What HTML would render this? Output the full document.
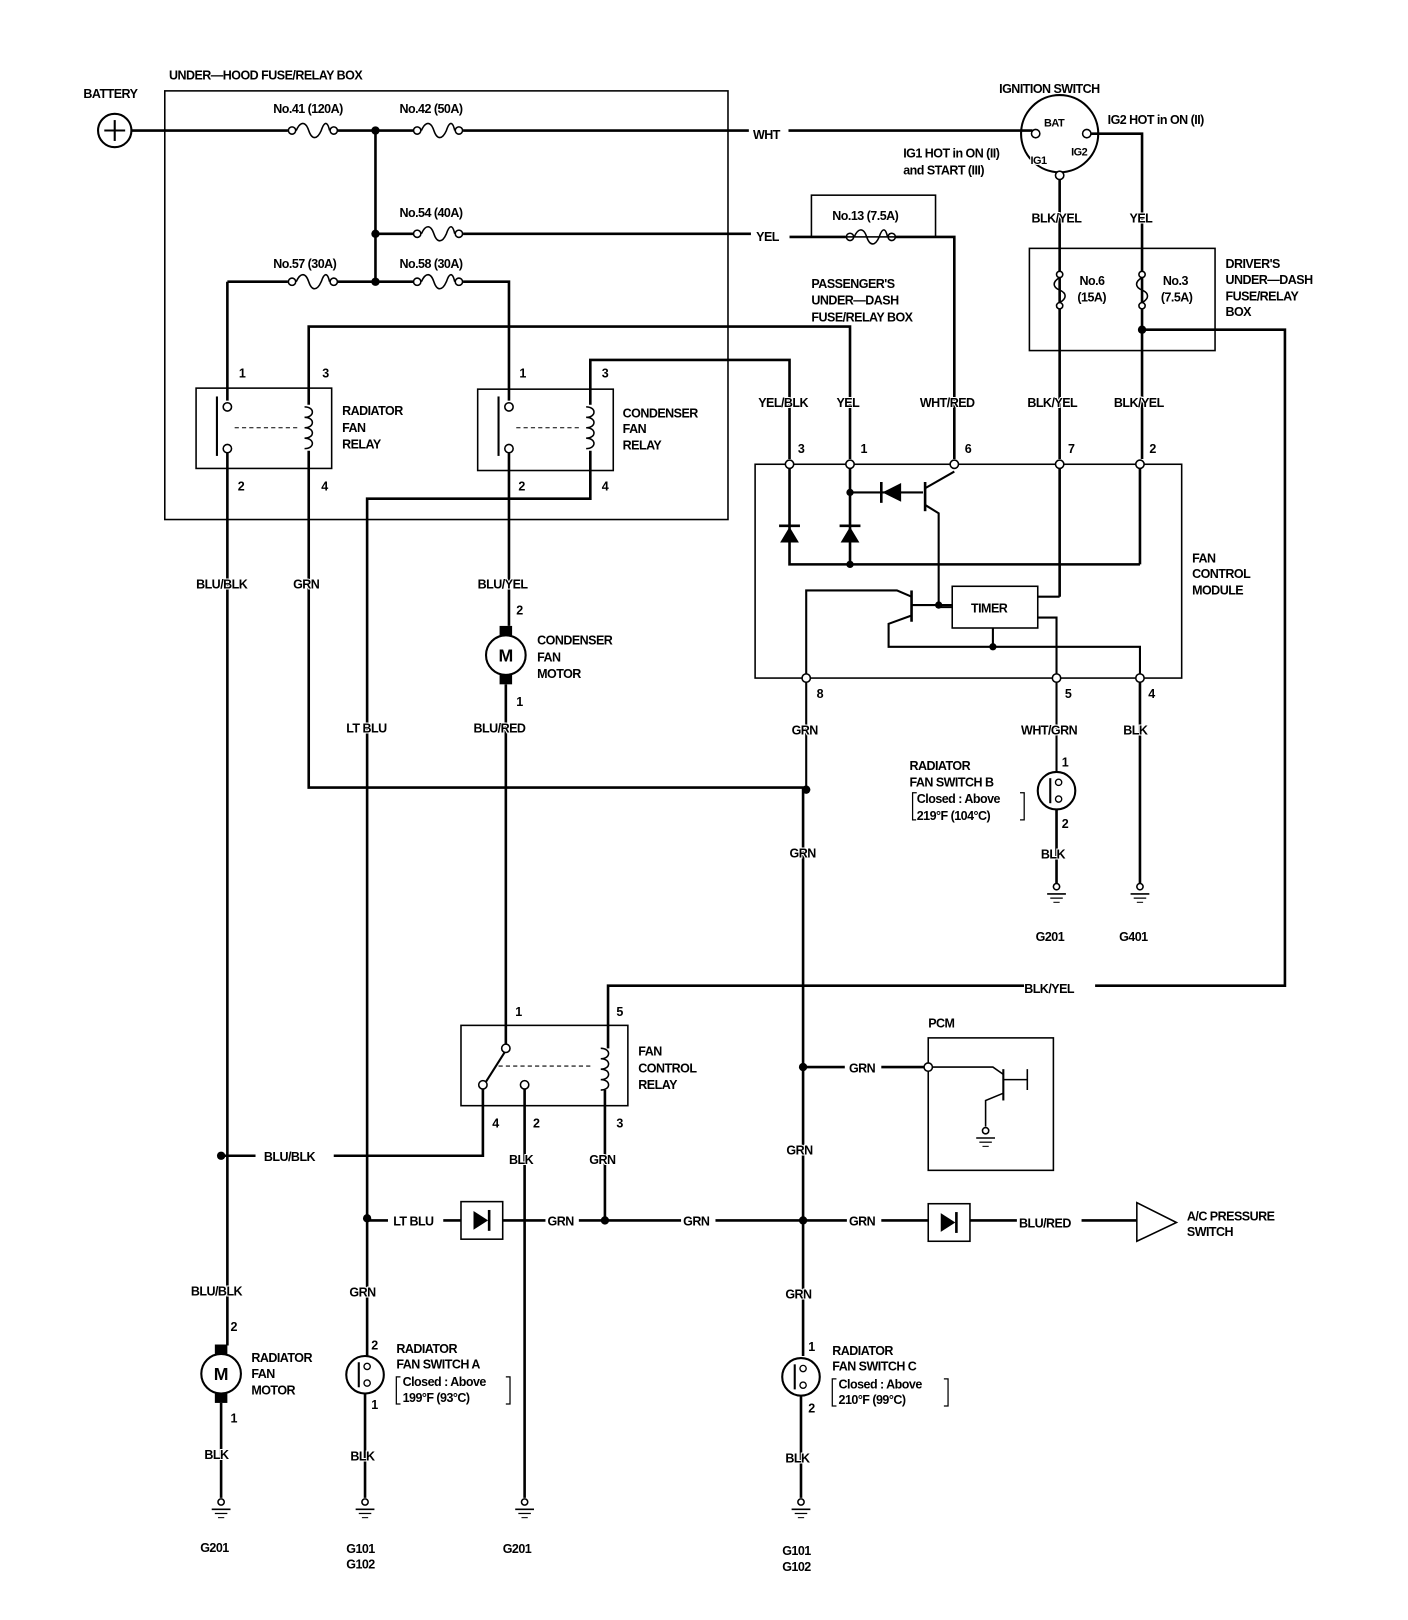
<!DOCTYPE html>
<html><head><meta charset="utf-8"><style>
html,body{margin:0;padding:0;background:#fff}
svg{display:block}
text{font-family:"Liberation Sans",sans-serif;font-weight:bold;font-size:12px;fill:#000;letter-spacing:-0.5px;paint-order:stroke;stroke:#fff;stroke-width:2px}
.s{font-size:10.5px}
</style></head><body>
<svg width="1408" height="1620" viewBox="0 0 1350 1553" xmlns="http://www.w3.org/2000/svg">
<defs>
<g id="gnd"><circle cx="0" cy="0" r="3" fill="#fff" stroke="#000" stroke-width="1.5"/><line x1="-9" y1="7" x2="9" y2="7" stroke="#000" stroke-width="1.5"/><line x1="-6" y1="11" x2="6" y2="11" stroke="#000" stroke-width="1.2"/><line x1="-3" y1="15" x2="3" y2="15" stroke="#000" stroke-width="1"/></g>
<g id="fuseh"><circle cx="0" cy="0" r="3.5" fill="#fff" stroke="#000" stroke-width="1.5"/><circle cx="40" cy="0" r="3.5" fill="#fff" stroke="#000" stroke-width="1.5"/><path d="M4,0 C8,-9 13,-9 16,0 C19,9 24,9 28,0 C31,-9 34,-9 36,0" fill="none" stroke="#000" stroke-width="1.5"/></g>
<g id="fusev"><circle cx="0" cy="0" r="3" fill="#fff" stroke="#000" stroke-width="1.5"/><circle cx="0" cy="30" r="3" fill="#fff" stroke="#000" stroke-width="1.5"/><path d="M0,3 C-7,7 -7,12 0,15 C7,18 7,23 0,27" fill="none" stroke="#000" stroke-width="1.5"/></g>
<g id="coil"><path d="M0,0 C10,0 10,10 0,10 C10,10 10,20 0,20 C10,20 10,30 0,30 C10,30 10,40 0,40" fill="none" stroke="#000" stroke-width="1.5"/></g>
<g id="sw"><circle cx="0" cy="0" r="18" fill="#fff" stroke="#000" stroke-width="2"/><line x1="-6" y1="-12" x2="-6" y2="12" stroke="#000" stroke-width="2"/><circle cx="2" cy="-8" r="3" fill="#fff" stroke="#000" stroke-width="1.3"/><circle cx="2" cy="8" r="3" fill="#fff" stroke="#000" stroke-width="1.3"/></g>
<g id="mot"><rect x="-6" y="-28" width="12" height="10" fill="#000"/><rect x="-6" y="18" width="12" height="10" fill="#000"/><circle cx="0" cy="0" r="19" fill="#fff" stroke="#000" stroke-width="2"/><text x="-7" y="6" style="font-size:17px">M</text></g>
<g id="dio"><rect x="0" y="-18" width="40" height="36" fill="#fff" stroke="#000" stroke-width="1.5"/><polygon points="12,-9 12,9 26,0" fill="#000"/><line x1="27" y1="-10" x2="27" y2="10" stroke="#000" stroke-width="2.5"/></g>
</defs>

<g stroke="#000" stroke-width="2.5" fill="none">
<rect x="158" y="87" width="540" height="411" stroke-width="1.5"/>
<polyline points="125,125 276,125"/><polyline points="324,125 396,125"/><polyline points="444,125 718,125"/><polyline points="756,125 990,125"/>
<line x1="360" y1="125" x2="360" y2="270"/>
<line x1="360" y1="224" x2="396" y2="224"/><line x1="444" y1="224" x2="720" y2="224"/>
<line x1="757" y1="227" x2="811" y2="227"/><polyline points="855,227 915,227 915,440"/>
<line x1="218" y1="270" x2="276" y2="270"/><line x1="324" y1="270" x2="396" y2="270"/><polyline points="444,270 488,270 488,384"/>
<polyline points="218,270 218,384"/>
<rect x="188" y="372" width="130" height="77" stroke-width="1.5"/>
<rect x="458" y="373" width="130" height="78" stroke-width="1.5"/>
<line x1="208" y1="380" x2="208" y2="437" stroke-width="2"/><line x1="478" y1="380" x2="478" y2="437" stroke-width="2"/>
<line x1="225" y1="410" x2="288" y2="410" stroke-width="1" stroke-dasharray="4,3"/><line x1="495" y1="410" x2="558" y2="410" stroke-width="1" stroke-dasharray="4,3"/>
<polyline points="296,388 296,313 815,313 815,440"/>
<polyline points="296,432 296,755 773,755"/>
<polyline points="218,434 218,1290"/>
<polyline points="566,388 566,345 757,345 757,440"/>
<polyline points="566,432 566,478 352,478 352,1300"/>
<polyline points="488,434 488,600"/>
<polyline points="485,656 485,1003"/>
<rect x="724" y="445" width="409" height="205" stroke-width="1.5"/>
<polyline points="757,448 757,541 1093,541"/>
<line x1="815" y1="448" x2="815" y2="541"/>
<polyline points="815,472 885,472" stroke-width="2"/>
<line x1="887" y1="462" x2="887" y2="490" stroke-width="2.5"/>
<polyline points="887,468 915,452" stroke-width="2"/><polyline points="887,484 900,492 900,582 913,582" stroke-width="2"/>
<line x1="1093" y1="448" x2="1093" y2="541"/>
<line x1="1016" y1="448" x2="1016" y2="572"/><line x1="995" y1="572" x2="1016" y2="572" stroke-width="2"/>
<rect x="913" y="562" width="82" height="40" fill="#fff" stroke-width="1.5"/>
<line x1="874" y1="566" x2="874" y2="596" stroke-width="2.5"/>
<polyline points="874,572 860,566 773,566 773,760" stroke-width="2"/>
<polyline points="874,590 852,598 852,620 1093,620 1093,650" stroke-width="2"/>
<line x1="874" y1="580" x2="913" y2="580" stroke-width="2"/>
<line x1="952" y1="602" x2="952" y2="620" stroke-width="2"/>
<polyline points="995,592 1013,592 1013,740" stroke-width="2"/>
<line x1="1093" y1="650" x2="1093" y2="848"/>
<line x1="1013" y1="776" x2="1013" y2="848"/>
<line x1="770" y1="755" x2="770" y2="1300"/>
<circle cx="1016" cy="128" r="37" stroke-width="2"/>
<polyline points="1045,128 1095,128 1095,440"/>
<line x1="1016" y1="172" x2="1016" y2="440"/>
<rect x="987" y="238" width="178" height="98" stroke-width="1.5"/>
<polyline points="1095,316 1232,316 1232,945 1050,945"/>
<polyline points="982,945 583,945 583,1005"/>
<rect x="442" y="983" width="160" height="77" stroke-width="1.5"/>
<line x1="485" y1="1007" x2="466" y2="1037" stroke-width="2"/>
<line x1="478" y1="1022" x2="568" y2="1022" stroke-width="1" stroke-dasharray="4,3"/>
<polyline points="463,1043 463,1108 320,1108"/><line x1="245" y1="1108" x2="212" y2="1108"/>
<line x1="503" y1="1043" x2="503" y2="1436"/>
<line x1="580" y1="1045" x2="580" y2="1170"/>
<line x1="352" y1="1170" x2="372" y2="1170"/><line x1="425" y1="1170" x2="442" y2="1170"/>
<line x1="482" y1="1170" x2="523" y2="1170"/><line x1="555" y1="1170" x2="653" y2="1170"/>
<line x1="686" y1="1170" x2="812" y2="1170"/><line x1="845" y1="1170" x2="890" y2="1170"/>
<line x1="930" y1="1170" x2="975" y2="1170"/><line x1="1037" y1="1170" x2="1090" y2="1170"/>
<polygon points="1090,1153 1090,1190 1128,1172" stroke-width="1.5" fill="#fff"/>
<rect x="890" y="995" width="120" height="127" stroke-width="1.5"/>
<line x1="770" y1="1023" x2="810" y2="1023"/><line x1="845" y1="1023" x2="890" y2="1023"/>
<polyline points="890,1023 952,1023 962,1030" stroke-width="1.5"/>
<line x1="962" y1="1025" x2="962" y2="1055" stroke-width="2"/>
<polyline points="962,1048 945,1055 945,1080" stroke-width="1.5"/>
<polyline points="962,1035 985,1035 985,1025 985,1045" stroke-width="1.5"/>
<line x1="212" y1="1345" x2="212" y2="1436"/>
<line x1="350" y1="1336" x2="350" y2="1436"/>
<line x1="768" y1="1338" x2="768" y2="1436"/>
<path d="M879,760 L875,760 L875,786 L879,786 M978,760 L982,760 L982,786 L978,786" stroke-width="1.2"/>
<path d="M384,1320 L380,1320 L380,1346 L384,1346 M485,1320 L489,1320 L489,1346 L485,1346" stroke-width="1.2"/>
<path d="M802,1322 L798,1322 L798,1348 L802,1348 M905,1322 L909,1322 L909,1348 L905,1348" stroke-width="1.2"/>
</g>

<use href="#fuseh" x="280" y="125"/><use href="#fuseh" x="400" y="125"/>
<use href="#fuseh" x="400" y="224"/><use href="#fuseh" x="280" y="270"/><use href="#fuseh" x="400" y="270"/>
<use href="#fuseh" x="815" y="227"/>
<rect x="778" y="187" width="119" height="40" fill="none" stroke="#000" stroke-width="1.5"/>
<use href="#fusev" x="1016" y="263"/><use href="#fusev" x="1095" y="263"/>
<g fill="#fff" stroke="#000" stroke-width="1.5">
<circle cx="218" cy="390" r="4"/><circle cx="218" cy="430" r="4"/>
<circle cx="488" cy="390" r="4"/><circle cx="488" cy="430" r="4"/>
<circle cx="485" cy="1005" r="4"/><circle cx="463" cy="1040" r="4"/><circle cx="503" cy="1040" r="4"/>
</g>
<use href="#coil" x="292" y="390"/><use href="#coil" x="562" y="390"/><use href="#coil" x="576" y="1005"/>
<g fill="#fff" stroke="#000" stroke-width="1.5">
<circle cx="757" cy="445" r="4"/><circle cx="815" cy="445" r="4"/><circle cx="915" cy="445" r="4"/><circle cx="1016" cy="445" r="4"/><circle cx="1093" cy="445" r="4"/>
<circle cx="773" cy="650" r="4"/><circle cx="1013" cy="650" r="4"/><circle cx="1093" cy="650" r="4"/>
<circle cx="993" cy="128" r="4"/><circle cx="1042" cy="128" r="4"/><circle cx="1016" cy="168" r="4"/>
<circle cx="890" cy="1023" r="4"/>
</g>
<polygon points="748,520 766,520 757,505" fill="#000"/><line x1="747" y1="504" x2="767" y2="504" stroke="#000" stroke-width="2.5"/>
<polygon points="806,520 824,520 815,505" fill="#000"/><line x1="805" y1="504" x2="825" y2="504" stroke="#000" stroke-width="2.5"/>
<polygon points="846,472 864,463 864,481" fill="#000"/><line x1="845" y1="462" x2="845" y2="482" stroke="#000" stroke-width="2.5"/>
<g fill="#000">
<circle cx="360" cy="125" r="4"/><circle cx="360" cy="224" r="4"/><circle cx="360" cy="270" r="4"/>
<circle cx="815" cy="472" r="3.5"/><circle cx="815" cy="541" r="3.5"/><circle cx="900" cy="580" r="3.5"/><circle cx="952" cy="620" r="3.5"/>
<circle cx="1095" cy="316" r="4"/><circle cx="773" cy="757" r="4"/>
<circle cx="212" cy="1108" r="4"/><circle cx="770" cy="1023" r="4"/><circle cx="352" cy="1168" r="4"/><circle cx="580" cy="1170" r="4"/><circle cx="770" cy="1170" r="4"/>
</g>
<circle cx="110" cy="125" r="16" fill="#fff" stroke="#000" stroke-width="2"/>
<line x1="100" y1="125" x2="120" y2="125" stroke="#000" stroke-width="2"/><line x1="110" y1="115" x2="110" y2="135" stroke="#000" stroke-width="2"/>
<use href="#mot" x="485" y="628"/><use href="#mot" x="212" y="1317"/>
<use href="#sw" x="1013" y="758"/><use href="#sw" x="350" y="1318"/><use href="#sw" x="768" y="1320"/>
<use href="#dio" x="442" y="1170"/><use href="#dio" x="890" y="1172"/>
<use href="#gnd" x="212" y="1440"/><use href="#gnd" x="350" y="1440"/><use href="#gnd" x="503" y="1440"/><use href="#gnd" x="768" y="1440"/>
<use href="#gnd" x="1013" y="850"/><use href="#gnd" x="1093" y="850"/><use href="#gnd" x="945" y="1084"/>

<text x="80" y="94">BATTERY</text>
<text x="162" y="76">UNDER—HOOD FUSE/RELAY BOX</text>
<text x="262" y="108">No.41 (120A)</text><text x="383" y="108">No.42 (50A)</text>
<text x="722" y="133">WHT</text>
<text x="383" y="208">No.54 (40A)</text><text x="725" y="231">YEL</text>
<text x="262" y="257">No.57 (30A)</text><text x="383" y="257">No.58 (30A)</text>
<text x="798" y="211">No.13 (7.5A)</text>
<text x="778" y="276">PASSENGER'S</text><text x="778" y="292">UNDER—DASH</text><text x="778" y="308">FUSE/RELAY BOX</text>
<text x="958" y="89">IGNITION SWITCH</text>
<text class="s" x="1001" y="121">BAT</text><text class="s" x="988" y="157">IG1</text><text class="s" x="1027" y="149">IG2</text>
<text x="1062" y="119">IG2 HOT in ON (II)</text>
<text x="866" y="151">IG1 HOT in ON (II)</text><text x="866" y="167">and START (III)</text>
<text x="989" y="213">BLK/YEL</text><text x="1083" y="213">YEL</text>
<text x="1035" y="273">No.6</text><text x="1033" y="289">(15A)</text>
<text x="1115" y="273">No.3</text><text x="1113" y="289">(7.5A)</text>
<text x="1175" y="257">DRIVER'S</text><text x="1175" y="272">UNDER—DASH</text><text x="1175" y="288">FUSE/RELAY</text><text x="1175" y="303">BOX</text>
<text x="229" y="362">1</text><text x="309" y="362">3</text><text x="228" y="470">2</text><text x="308" y="470">4</text>
<text x="328" y="398">RADIATOR</text><text x="328" y="414">FAN</text><text x="328" y="430">RELAY</text>
<text x="498" y="362">1</text><text x="577" y="362">3</text><text x="497" y="470">2</text><text x="577" y="470">4</text>
<text x="597" y="400">CONDENSER</text><text x="597" y="415">FAN</text><text x="597" y="431">RELAY</text>
<text x="727" y="390">YEL/BLK</text><text x="802" y="390">YEL</text><text x="882" y="390">WHT/RED</text><text x="985" y="390">BLK/YEL</text><text x="1068" y="390">BLK/YEL</text>
<text x="765" y="434">3</text><text x="825" y="434">1</text><text x="925" y="434">6</text><text x="1024" y="434">7</text><text x="1102" y="434">2</text>
<text x="783" y="669">8</text><text x="1021" y="669">5</text><text x="1101" y="669">4</text>
<text x="931" y="587">TIMER</text>
<text x="1143" y="539">FAN</text><text x="1143" y="554">CONTROL</text><text x="1143" y="570">MODULE</text>
<text x="188" y="564">BLU/BLK</text><text x="281" y="564">GRN</text><text x="458" y="564">BLU/YEL</text>
<text x="495" y="589">2</text><text x="495" y="677">1</text>
<text x="515" y="618">CONDENSER</text><text x="515" y="634">FAN</text><text x="515" y="650">MOTOR</text>
<text x="332" y="702">LT BLU</text><text x="454" y="702">BLU/RED</text>
<text x="759" y="704">GRN</text><text x="979" y="704">WHT/GRN</text><text x="1077" y="704">BLK</text>
<text x="872" y="738">RADIATOR</text><text x="872" y="754">FAN SWITCH B</text><text x="879" y="770">Closed : Above</text><text x="879" y="786">219°F (104°C)</text>
<text x="1018" y="735">1</text><text x="1018" y="794">2</text>
<text x="757" y="822">GRN</text><text x="998" y="823">BLK</text>
<text x="993" y="902">G201</text><text x="1073" y="902">G401</text>
<text x="982" y="952">BLK/YEL</text>
<text x="890" y="985">PCM</text>
<text x="494" y="974">1</text><text x="591" y="974">5</text>
<text x="612" y="1012">FAN</text><text x="612" y="1028">CONTROL</text><text x="612" y="1044">RELAY</text>
<text x="814" y="1028">GRN</text>
<text x="472" y="1081">4</text><text x="511" y="1081">2</text><text x="591" y="1081">3</text>
<text x="253" y="1113">BLU/BLK</text><text x="754" y="1107">GRN</text>
<text x="488" y="1116">BLK</text><text x="565" y="1116">GRN</text>
<text x="377" y="1175">LT BLU</text><text x="525" y="1175">GRN</text><text x="655" y="1175">GRN</text><text x="814" y="1175">GRN</text><text x="977" y="1177">BLU/RED</text>
<text x="1138" y="1170">A/C PRESSURE</text><text x="1138" y="1185">SWITCH</text>
<text x="183" y="1242">BLU/BLK</text><text x="335" y="1243">GRN</text><text x="753" y="1245">GRN</text>
<text x="221" y="1276">2</text><text x="221" y="1364">1</text>
<text x="241" y="1306">RADIATOR</text><text x="241" y="1321">FAN</text><text x="241" y="1337">MOTOR</text>
<text x="356" y="1294">2</text><text x="356" y="1351">1</text>
<text x="380" y="1297">RADIATOR</text><text x="380" y="1312">FAN SWITCH A</text><text x="386" y="1329">Closed : Above</text><text x="386" y="1344">199°F (93°C)</text>
<text x="775" y="1295">1</text><text x="775" y="1354">2</text>
<text x="798" y="1299">RADIATOR</text><text x="798" y="1314">FAN SWITCH C</text><text x="804" y="1331">Closed : Above</text><text x="804" y="1346">210°F (99°C)</text>
<text x="196" y="1399">BLK</text><text x="336" y="1400">BLK</text><text x="753" y="1402">BLK</text>
<text x="192" y="1488">G201</text><text x="332" y="1489">G101</text><text x="332" y="1504">G102</text><text x="482" y="1489">G201</text>
<text x="750" y="1491">G101</text><text x="750" y="1506">G102</text>
</svg>
</body></html>
